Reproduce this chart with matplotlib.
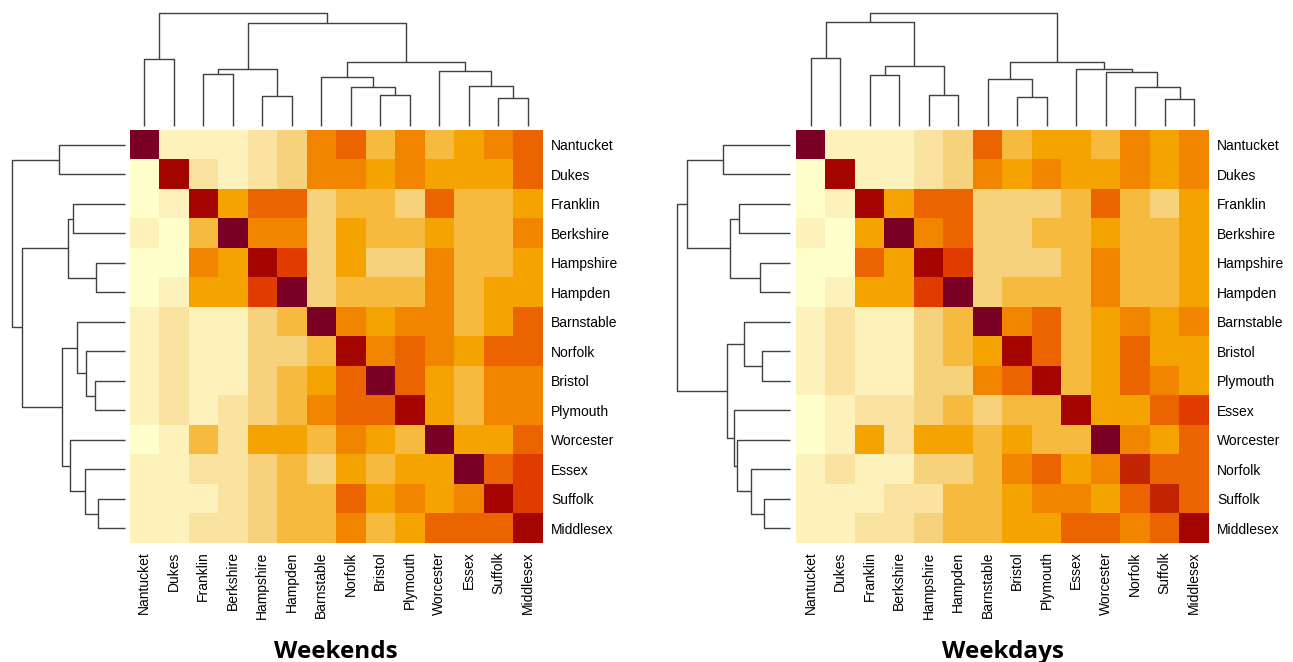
import matplotlib
matplotlib.use('Agg')
import matplotlib.pyplot as plt
import numpy as np
from matplotlib.colors import ListedColormap

# colour levels, 0 = strongest correlation (dark) ... 11 = weakest (pale)
level_colors = ['#7a0026', '#a50500', '#c22300', '#e03c00', '#eb6400', '#f28500',
                '#f5a300', '#f6ba3e', '#f6d27c', '#fae3a0', '#fdf2bb', '#ffffcc']

weekend_counties = ['Nantucket', 'Dukes', 'Franklin', 'Berkshire', 'Hampshire', 'Hampden',
                    'Barnstable', 'Norfolk', 'Bristol', 'Plymouth', 'Worcester', 'Essex',
                    'Suffolk', 'Middlesex']
weekday_counties = ['Nantucket', 'Dukes', 'Franklin', 'Berkshire', 'Hampshire', 'Hampden',
                    'Barnstable', 'Bristol', 'Plymouth', 'Essex', 'Worcester', 'Norfolk',
                    'Suffolk', 'Middlesex']

weekend_levels = [
    [0, 10, 10, 10, 9, 8, 5, 4, 7, 5, 7, 6, 5, 4],
    [11, 1, 9, 10, 9, 8, 5, 5, 6, 5, 6, 6, 6, 4],
    [11, 10, 1, 6, 4, 4, 8, 7, 7, 8, 4, 7, 7, 6],
    [10, 11, 7, 0, 5, 5, 8, 6, 7, 7, 6, 7, 7, 5],
    [11, 11, 5, 6, 1, 3, 8, 6, 8, 8, 5, 7, 7, 6],
    [11, 10, 6, 6, 3, 0, 8, 7, 7, 7, 5, 7, 6, 6],
    [10, 9, 10, 10, 8, 7, 0, 5, 6, 5, 5, 7, 6, 4],
    [10, 9, 10, 10, 8, 8, 7, 1, 5, 4, 5, 6, 4, 4],
    [10, 9, 10, 10, 8, 7, 6, 4, 0, 4, 6, 7, 5, 5],
    [10, 9, 10, 9, 8, 7, 5, 4, 4, 1, 6, 7, 5, 5],
    [11, 10, 7, 9, 6, 6, 7, 5, 6, 7, 0, 6, 6, 4],
    [10, 10, 9, 9, 8, 7, 8, 6, 7, 6, 6, 0, 4, 3],
    [10, 10, 10, 9, 8, 7, 7, 4, 6, 5, 6, 5, 1, 3],
    [10, 10, 9, 9, 8, 7, 7, 5, 7, 6, 4, 4, 4, 1],
]

weekday_levels = [
    [0, 10, 10, 10, 9, 8, 4, 7, 6, 6, 7, 5, 6, 5],
    [11, 1, 10, 10, 9, 8, 5, 6, 5, 6, 6, 5, 6, 5],
    [11, 10, 1, 6, 4, 4, 8, 8, 8, 7, 4, 7, 8, 6],
    [10, 11, 6, 0, 5, 4, 8, 8, 7, 7, 6, 7, 7, 6],
    [11, 11, 4, 6, 1, 3, 8, 8, 8, 7, 5, 7, 7, 6],
    [11, 10, 6, 6, 3, 0, 8, 7, 7, 7, 5, 7, 7, 6],
    [10, 9, 10, 10, 8, 7, 0, 5, 4, 7, 6, 5, 6, 5],
    [10, 9, 10, 10, 8, 7, 6, 1, 4, 7, 6, 4, 6, 6],
    [10, 9, 10, 10, 8, 8, 5, 4, 1, 7, 6, 4, 5, 6],
    [11, 10, 9, 9, 8, 7, 8, 7, 7, 1, 6, 6, 4, 3],
    [11, 10, 6, 9, 6, 6, 7, 6, 7, 7, 0, 5, 6, 4],
    [10, 9, 10, 10, 8, 8, 7, 5, 4, 6, 5, 2, 4, 4],
    [10, 10, 10, 9, 9, 7, 7, 6, 5, 5, 6, 4, 2, 4],
    [10, 10, 9, 9, 8, 7, 7, 6, 6, 4, 4, 5, 4, 1],
]

# dendrogram merges: (child a, child b, relative height); leaves 0..13, new nodes from 14
weekend_top_merges = [(0, 1, 0.593), (2, 3, 0.460), (4, 5, 0.268), (15, 16, 0.507),
                      (8, 9, 0.271), (7, 18, 0.348), (6, 19, 0.431), (12, 13, 0.251),
                      (11, 21, 0.357), (10, 22, 0.487), (20, 23, 0.563), (17, 24, 0.909),
                      (14, 25, 1.0)]
weekend_side_merges = [(0, 1, 0.588), (2, 3, 0.457), (4, 5, 0.261), (15, 16, 0.504),
                       (8, 9, 0.264), (7, 18, 0.344), (6, 19, 0.427), (12, 13, 0.243),
                       (11, 21, 0.353), (10, 22, 0.487), (20, 23, 0.558), (17, 24, 0.908),
                       (14, 25, 1.0)]
weekday_top_merges = [(0, 1, 0.599), (2, 3, 0.454), (4, 5, 0.271), (15, 16, 0.531),
                      (14, 17, 0.917), (7, 8, 0.257), (6, 19, 0.413), (12, 13, 0.239),
                      (11, 21, 0.345), (10, 22, 0.478), (9, 23, 0.501), (20, 24, 0.566),
                      (18, 25, 1.0)]
weekday_side_merges = [(0, 1, 0.595), (2, 3, 0.453), (4, 5, 0.266), (15, 16, 0.527),
                       (14, 17, 0.914), (7, 8, 0.251), (6, 19, 0.408), (12, 13, 0.231),
                       (11, 21, 0.343), (10, 22, 0.467), (9, 23, 0.497), (20, 24, 0.559),
                       (18, 25, 1.0)]

W, H = 1293, 662
cmap = ListedColormap(level_colors)


def px_axes(fig, x0, y0, x1, y1):
    # pixel box (top-left origin) -> figure axes
    return fig.add_axes([x0 / W, (H - y1) / H, (x1 - x0) / W, (y1 - y0) / H])


def draw_dendro(ax, merges, n, side):
    pos = list(np.arange(n) + 0.5)
    hts = [0.0] * n
    for a, b, h in merges:
        xs = [pos[a], pos[a], pos[b], pos[b]]
        ys = [hts[a], h, h, hts[b]]
        if side == 'top':
            ax.plot(xs, ys, color='#404040', lw=1.0, solid_capstyle='butt', clip_on=False)
        else:
            ax.plot(ys, xs, color='#404040', lw=1.0, solid_capstyle='butt', clip_on=False)
        pos.append((pos[a] + pos[b]) / 2)
        hts.append(h)
    if side == 'top':
        ax.set_xlim(0, n)
        ax.set_ylim(0, 1)
    else:
        ax.set_xlim(1, 0)
        ax.set_ylim(n, 0)
    ax.axis('off')


def draw_panel(fig, hx0, dx0, levels, names, top_m, side_m, title):
    n = len(names)
    hx1 = hx0 + 413
    ax = px_axes(fig, hx0, 130, hx1, 543)
    ax.imshow(np.array(levels), cmap=cmap, vmin=-0.5, vmax=11.5, aspect='auto',
              interpolation='nearest', extent=(0, n, n, 0))
    ax.set_xticks(np.arange(n) + 0.5)
    ax.set_xticklabels(names, rotation=90, fontsize=10, family='Liberation Sans')
    ax.yaxis.tick_right()
    ax.set_yticks(np.arange(n) + 0.5)
    ax.set_yticklabels(names, fontsize=10, family='Liberation Sans')
    ax.tick_params(length=0, pad=6)
    for s in ax.spines.values():
        s.set_visible(False)

    axt = px_axes(fig, hx0, 13, hx1, 126)
    draw_dendro(axt, top_m, n, 'top')
    axl = px_axes(fig, dx0, 130, dx0 + 113, 543)
    draw_dendro(axl, side_m, n, 'side')

    fig.text((hx0 + hx1) / 2 / W, 4 / H, title, ha='center', va='baseline',
             fontsize=17.5, fontweight='bold', family='Open Sans')


fig = plt.figure(figsize=(W / 100, H / 100), dpi=100)
draw_panel(fig, 129.5, 12, weekend_levels, weekend_counties,
           weekend_top_merges, weekend_side_merges, 'Weekends')
draw_panel(fig, 796, 677, weekday_levels, weekday_counties,
           weekday_top_merges, weekday_side_merges, 'Weekdays')

fig.savefig('out.png', dpi=100)
